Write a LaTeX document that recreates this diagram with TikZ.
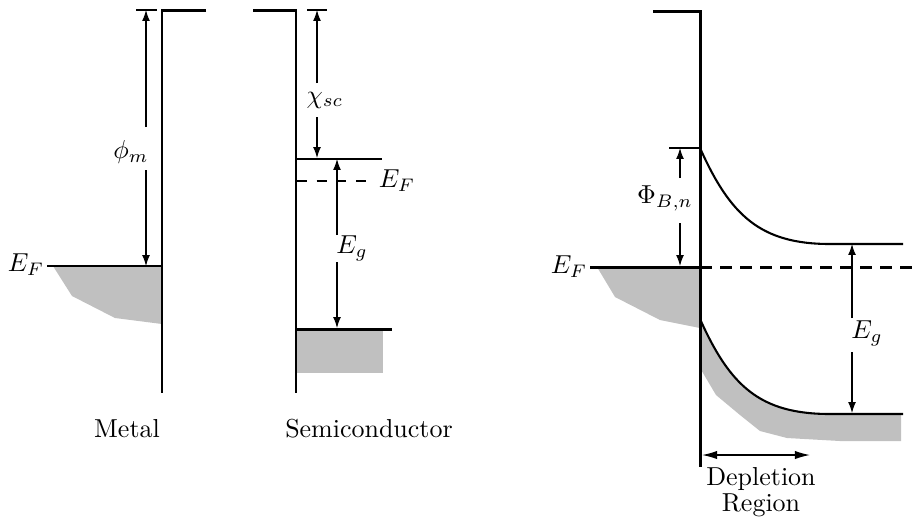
\documentclass[tikz,border=0pt]{standalone}
\usetikzlibrary{arrows.meta}
\definecolor{shadegray}{RGB}{192,192,192}
\begin{document}
\begin{tikzpicture}[x=0.385pt,y=-0.385pt,
  band/.style={line width=1.15pt},
  fermi/.style={line width=1pt},
  thinline/.style={line width=0.55pt},
  curveline/.style={line width=0.8pt},
  dim/.style={line width=0.4pt,-{Latex[length=4.2pt,width=3pt]}},
  tickline/.style={line width=0.4pt},
  shade/.style={fill=shadegray,draw=none},
  lbl/.style={inner sep=0pt}]
\useasboundingbox (0,0) rectangle (917,519);

% ---------- shading ----------
\fill[shade] (53,266) -- (72,296) -- (115,318) -- (162,324) -- (162,266) -- cycle;
\fill[shade] (296,329) rectangle (383,373);
\fill[shade] (597,267) -- (615,297) -- (660,320) -- (700,328) -- (700,267) -- cycle;
\fill[shade] (700,319) .. controls (730,386) and (760,414) .. (830,414) -- (901,414)
  -- (901,441) -- (840,441) -- (787,438) -- (760,431) -- (740,415) -- (716,395) -- (700,368) -- cycle;

% ---------- coordinates ----------
\coordinate (mtop) at (162,10);
\coordinate (mstub) at (206,10);
\coordinate (mbot) at (162,393);
\coordinate (mef0) at (47,266);
\coordinate (mef1) at (162,266);

\coordinate (stop) at (296,10);
\coordinate (sstub) at (253,10);
\coordinate (sbot) at (296,393);
\coordinate (scb0) at (296,159);
\coordinate (scb1) at (382,159);
\coordinate (sef0) at (297,181);
\coordinate (sef1) at (372,181);
\coordinate (svb0) at (296,329);
\coordinate (svb1) at (392,329);

\coordinate (jtop) at (700,11);
\coordinate (jstub) at (653,11);
\coordinate (jbot) at (700,467);
\coordinate (jef0) at (590,267);
\coordinate (jef1) at (700,267);
\coordinate (jef2) at (917,267);
\coordinate (jtick) at (669,148);
\coordinate (jcb0) at (700,148);
\coordinate (jcb1) at (830,244);
\coordinate (jcb2) at (903,244);
\coordinate (jvb0) at (700,319);
\coordinate (jvb1) at (830,414);
\coordinate (jvb2) at (903,414);

% ---------- metal ----------
\draw[band] (mstub) -- (mtop) -- (mbot);
\draw[fermi] (mef0) -- (mef1);
\coordinate (phiT0) at (136,10); \coordinate (phiT1) at (157,10);
\draw[tickline] (phiT0) -- (phiT1);
\node[lbl] (phim) at (131,152) {$\phi_m$};
\coordinate (phiA) at (146,127); \coordinate (phiAt) at (146,10);
\coordinate (phiB) at (146,170); \coordinate (phiBt) at (146,266);
\draw[dim] (phiA) -- (phiAt);
\draw[dim] (phiB) -- (phiBt);
\node[lbl] (efm) at (26,265) {$E_F$};
\node[anchor=base,inner sep=0pt] (metal) at (127,437) {Metal};

% ---------- semiconductor ----------
\draw[band] (sstub) -- (stop) -- (sbot);
\draw[thinline] (scb0) -- (scb1);
\draw[tickline,dash pattern=on 3.8pt off 3.8pt] (sef0) -- (sef1);
\draw[band] (svb0) -- (svb1);
\coordinate (chiT0) at (307,10); \coordinate (chiT1) at (327,10);
\draw[tickline] (chiT0) -- (chiT1);
\node[lbl] (chi) at (325,100) {$\chi_{sc}$};
\coordinate (chiA) at (317,83); \coordinate (chiAt) at (317,10);
\coordinate (chiB) at (317,117); \coordinate (chiBt) at (317,158);
\draw[dim] (chiA) -- (chiAt);
\draw[dim] (chiB) -- (chiBt);
\node[lbl] (efs) at (397,181) {$E_F$};
\node[lbl] (egs) at (352,248) {$E_g$};
\coordinate (egA) at (337,235); \coordinate (egAt) at (337,159);
\coordinate (egB) at (337,262); \coordinate (egBt) at (337,328);
\draw[dim] (egA) -- (egAt);
\draw[dim] (egB) -- (egBt);
\node[anchor=base,inner sep=0pt] (semi) at (369,437) {Semiconductor};

% ---------- junction ----------
\draw[band] (jstub) -- (jtop) -- (jbot);
\draw[band] (jef0) -- (jef1);
\draw[band,dash pattern=on 4.6pt off 3.1pt] (jef1) -- (jef2);
\draw[thinline] (jtick) -- (jcb0);
\draw[curveline] (jcb0) .. controls (730,215) and (760,244) .. (jcb1) -- (jcb2);
\draw[curveline] (jvb0) .. controls (730,386) and (760,414) .. (jvb1) -- (jvb2);
\node[lbl] (efj) at (569,267) {$E_F$};
\node[lbl] (phib) at (665,198) {$\Phi_{B,n}$};
\coordinate (pbA) at (680,178); \coordinate (pbAt) at (680,148);
\coordinate (pbB) at (680,223); \coordinate (pbBt) at (680,266);
\draw[dim] (pbA) -- (pbAt);
\draw[dim] (pbB) -- (pbBt);
\node[lbl] (egj) at (867,333) {$E_g$};
\coordinate (egjA) at (852,318); \coordinate (egjAt) at (852,244);
\coordinate (egjB) at (852,352); \coordinate (egjBt) at (852,413);
\draw[dim] (egjA) -- (egjAt);
\draw[dim] (egjB) -- (egjBt);
\coordinate (dep0) at (702,455); \coordinate (dep1) at (810,455);
\draw[line width=0.5pt,{Latex[length=5.8pt,width=3.2pt]}-{Latex[length=5.8pt,width=3.2pt]}] (dep0) -- (dep1);
\node[align=center,inner sep=0pt] (dep) at (761,492) {Depletion\\[-2pt]Region};
\end{tikzpicture}
\end{document}
